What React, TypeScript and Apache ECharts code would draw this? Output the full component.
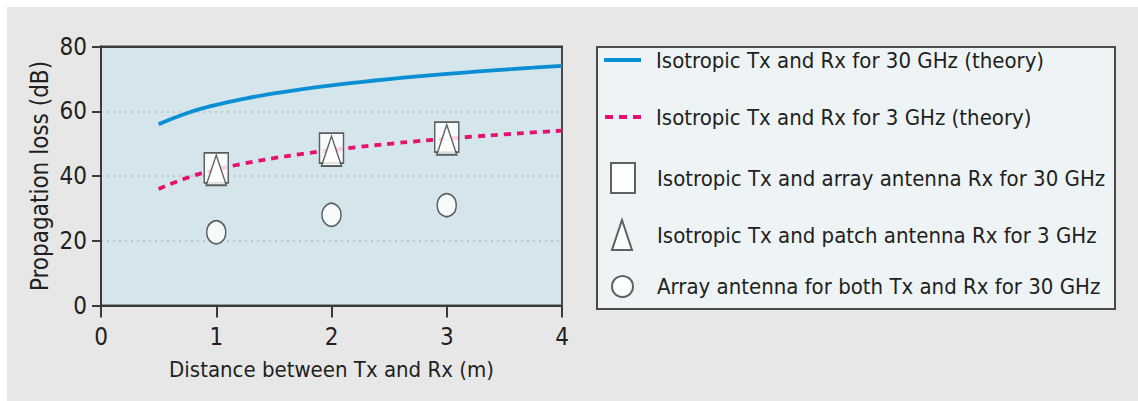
import React, { useEffect, useRef } from "react";
import * as echarts from "echarts";

const FONT = "'DejaVu Sans Condensed', 'DejaVu Sans', sans-serif";

const seriesNames = [
  "Isotropic Tx and Rx for 30 GHz (theory)",
  "Isotropic Tx and Rx for 3 GHz (theory)",
  "Isotropic Tx and array antenna Rx for 30 GHz",
  "Isotropic Tx and patch antenna Rx for 3 GHz",
  "Array antenna for both Tx and Rx for 30 GHz",
];

const theoryDistances = [0.5, 0.75, 1, 1.25, 1.5, 1.75, 2, 2.25, 2.5, 2.75, 3, 3.25, 3.5, 3.75, 4];
const theory30GHz = [55.96, 59.48, 61.98, 63.92, 65.5, 66.84, 68.0, 69.02, 69.94, 70.77, 71.52, 72.22, 72.86, 73.46, 74.02];
const theory3GHz = [35.96, 39.48, 41.98, 43.92, 45.5, 46.84, 48.0, 49.02, 49.94, 50.77, 51.52, 52.22, 52.86, 53.46, 54.02];

const measuredDistances = [1, 2, 3];
const arrayRx30GHz = [42.5, 48.6, 52.0];
const patchRx3GHz = [41.8, 47.7, 51.2];
const arrayBoth30GHz = [22.6, 28.0, 31.0];

const yTicks = [0, 20, 40, 60, 80];
const xTicks = [0, 1, 2, 3, 4];

const pair = (xs: number[], ys: number[]) => xs.map((x, i) => [x, ys[i]]);

export default function App() {
  const ref = useRef<HTMLDivElement>(null);

  useEffect(() => {
    if (!ref.current) return;
    const chart = echarts.init(ref.current, undefined, { renderer: "svg" });
    const textColor = "#231f20";
    const axisColor = "#3a3a3a";
    const blue = "#0a8fd4";
    const pink = "#e8106e";
    const markerStyle = { color: "#ffffff", borderColor: "#3a3a3a", borderWidth: 1.6 };

    const legendRow = (
      name: string,
      left: number,
      centerY: number,
      w: number,
      h: number,
      pad: number,
      icon?: string
    ) => ({
      show: true,
      data: [icon ? { name, icon } : name],
      left,
      top: centerY - Math.max(h, 30) / 2,
      padding: 0,
      itemWidth: w,
      itemHeight: h,
      selectedMode: false,
      formatter: "{t|{name}}",
      textStyle: {
        rich: {
          t: { fontFamily: FONT, fontSize: 22, color: textColor, lineHeight: 30, padding: [0, 0, 0, pad] },
        },
      },
    });

    chart.setOption({
      animation: false,
      backgroundColor: "transparent",
      textStyle: { fontFamily: FONT },
      graphic: [
        {
          type: "rect",
          shape: { x: 597, y: 47, width: 518, height: 262 },
          style: { fill: "#eef4f6", stroke: "#4a4a4a", lineWidth: 2 },
          z: -5,
        },
      ],
      legend: [
        legendRow(seriesNames[0], 604, 64, 37, 4, 10, "rect"),
        legendRow(seriesNames[1], 605, 121, 36, 4, 10, "path://M0,0h8v4h-8z M14,0h8v4h-8z M28,0h8v4h-8z"),
        legendRow(seriesNames[2], 610, 177, 24, 30, 17),
        legendRow(seriesNames[3], 611, 234, 20, 30, 20),
        legendRow(seriesNames[4], 611, 290, 21, 23, 19),
      ],
      grid: {
        left: 101,
        top: 46.5,
        right: 576,
        bottom: 95.5,
        show: true,
        backgroundColor: "#d4e6eb",
        borderColor: "#4a4a4a",
        borderWidth: 2,
      },
      xAxis: [
        {
          type: "value",
          min: xTicks[0],
          max: xTicks[xTicks.length - 1],
          interval: 1,
          name: "Distance between Tx and Rx (m)",
          nameLocation: "middle",
          nameGap: 53,
          nameTextStyle: { fontFamily: FONT, fontSize: 22, color: textColor },
          axisLine: { show: true, onZero: false, lineStyle: { color: axisColor, width: 2 } },
          axisTick: { show: true, inside: false, length: 12, lineStyle: { color: axisColor, width: 2 } },
          axisLabel: { fontFamily: FONT, fontSize: 24, color: textColor, margin: 19 },
          splitLine: { show: false },
          z: 5,
        },
        {
          type: "value",
          position: "top",
          min: xTicks[0],
          max: xTicks[xTicks.length - 1],
          interval: 1,
          axisLine: { show: true, onZero: false, lineStyle: { color: axisColor, width: 2 } },
          axisTick: { show: false },
          axisLabel: { show: false },
          splitLine: { show: false },
          z: 5,
        },
      ],
      yAxis: [
        {
          type: "value",
          min: yTicks[0],
          max: yTicks[yTicks.length - 1],
          interval: 20,
          name: "Propagation loss (dB)",
          nameLocation: "middle",
          nameGap: 49,
          nameRotate: 90,
          nameTextStyle: { fontFamily: FONT, fontSize: 24, color: textColor },
          axisLine: { show: true, lineStyle: { color: axisColor, width: 2 } },
          axisTick: { show: true, inside: false, length: 9, lineStyle: { color: axisColor, width: 2 } },
          axisLabel: { fontFamily: FONT, fontSize: 24, color: textColor, margin: 14 },
          splitLine: { show: true, lineStyle: { color: "#b9c6ca", width: 2, type: [2, 4] } },
        },
        {
          type: "value",
          position: "right",
          min: yTicks[0],
          max: yTicks[yTicks.length - 1],
          interval: 20,
          axisLine: { show: true, lineStyle: { color: axisColor, width: 2 } },
          axisTick: { show: true, inside: true, length: 8, lineStyle: { color: axisColor, width: 2 } },
          axisLabel: { show: false },
          splitLine: { show: false },
          z: 5,
        },
      ],
      series: [
        {
          name: seriesNames[0],
          type: "line",
          data: pair(theoryDistances, theory30GHz),
          smooth: true,
          symbol: "none",
          lineStyle: { color: blue, width: 3.8 },
          itemStyle: { color: blue },
          z: 2,
        },
        {
          name: seriesNames[1],
          type: "line",
          data: pair(theoryDistances, theory3GHz),
          smooth: true,
          symbol: "none",
          lineStyle: { color: pink, width: 3.8, type: [7, 6] },
          itemStyle: { color: pink },
          z: 2,
        },
        {
          name: seriesNames[2],
          type: "scatter",
          data: pair(measuredDistances, arrayRx30GHz),
          symbol: "rect",
          symbolSize: [24, 30],
          itemStyle: markerStyle,
          z: 3,
        },
        {
          name: seriesNames[3],
          type: "scatter",
          data: pair(measuredDistances, patchRx3GHz),
          symbol: "triangle",
          symbolSize: [20, 30],
          itemStyle: markerStyle,
          z: 4,
        },
        {
          name: seriesNames[4],
          type: "scatter",
          data: pair(measuredDistances, arrayBoth30GHz),
          symbol: "circle",
          symbolSize: [19, 23],
          itemStyle: markerStyle,
          z: 3,
        },
      ],
    });
    return () => chart.dispose();
  }, []);

  return (
    <div style={{ position: "absolute", left: 0, top: 0, width: 1138, height: 401, background: "#ffffff" }}>
      <div style={{ position: "absolute", left: 7, top: 7, right: 0, bottom: 0, background: "#e7e7e7" }} />
      <div ref={ref} style={{ position: "absolute", left: 0, top: 0, width: 1138, height: 401 }} />
    </div>
  );
}
